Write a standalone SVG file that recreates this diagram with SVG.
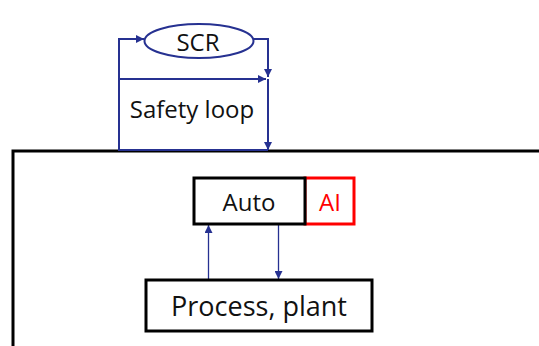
<svg xmlns="http://www.w3.org/2000/svg" width="539" height="346" viewBox="0 0 539 346">
  <style>
    .lbl { font-family: "Open Sans", "Liberation Sans", sans-serif; fill: #111; text-anchor: middle; dominant-baseline: central; }
    .box { fill: #fff; stroke: #000; stroke-width: 3; }
    .wire { fill: none; stroke: #263191; stroke-width: 2; }
    .wire-thin { fill: none; stroke: #263191; stroke-width: 1.3; }
  </style>
  <defs>
    <marker id="arr" viewBox="0 0 10 10" refX="10" refY="5" markerWidth="8" markerHeight="8" orient="auto" markerUnits="userSpaceOnUse">
      <path d="M0,0 L10,5 L0,10 z" fill="#263191"/>
    </marker>
  </defs>

  <!-- plant boundary -->
  <g id="frame">
    <path d="M13,346 V151 H539" fill="none" stroke="#000" stroke-width="3"/>
  </g>

  <g id="connectors">
    <!-- safety loop -->
    <path class="wire" d="M119,151 V39 H144" marker-end="url(#arr)"/>
    <path class="wire" d="M253,39 H268 V77" marker-end="url(#arr)"/>
    <path class="wire" d="M119,79 H266" marker-end="url(#arr)"/>
    <path class="wire" d="M268,79 V150" marker-end="url(#arr)"/>
    <path class="wire" d="M119,150 H268"/>
    <!-- control loop -->
    <path class="wire-thin" d="M208.5,280 V225" marker-end="url(#arr)"/>
    <path class="wire-thin" d="M278.5,225 V279" marker-end="url(#arr)"/>
  </g>

  <g id="scr">
    <ellipse cx="199" cy="41" rx="54.5" ry="17" fill="#fff" stroke="#263191" stroke-width="2"/>
    <text class="lbl" x="198" y="41" font-size="24">SCR</text>
  </g>

  <g id="safety-loop">
    <text class="lbl" x="192" y="108" font-size="24">Safety loop</text>
  </g>

  <g id="ai">
    <rect x="305" y="178" width="49" height="46" fill="#fff" stroke="#ff0000" stroke-width="3"/>
    <text class="lbl" x="330" y="201" font-size="24" style="fill:#ff0000">AI</text>
  </g>

  <g id="auto">
    <rect class="box" x="194" y="178" width="111" height="46"/>
    <text class="lbl" x="249" y="201" font-size="24">Auto</text>
  </g>

  <g id="process">
    <rect class="box" x="146" y="280" width="226" height="51"/>
    <text class="lbl" x="259" y="305" font-size="27">Process, plant</text>
  </g>
</svg>
